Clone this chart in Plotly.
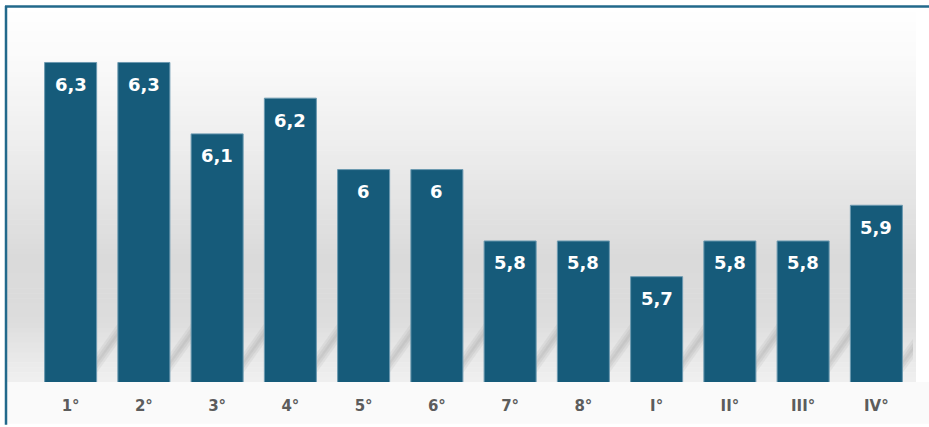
import plotly.graph_objects as go

categories = ["1°", "2°", "3°", "4°", "5°", "6°", "7°", "8°", "I°", "II°", "III°", "IV°"]
values = [6.3, 6.3, 6.1, 6.2, 6.0, 6.0, 5.8, 5.8, 5.7, 5.8, 5.8, 5.9]

W, H = 929, 427
ML, MR, MT, MB = 34, 16, 20, 42
Y0, Y1 = 5.405, 6.419
PW, PH = W - ML - MR, H - MT - MB


def px_x(p):
    return (p - ML) / PW


def px_y(p):
    return (H - MB - p) / PH


def lab(v):
    s = f"{v:g}"
    return s.replace(".", ",")


fig = go.Figure()
fig.add_trace(go.Bar(
    x=list(range(len(categories))), y=values, base=0,
    marker=dict(color="#165b7a", line=dict(color="#6b99b0", width=1)),
    hoverinfo="skip", showlegend=False,
))

shapes = []
# background gradient (decoration)
stops = [(6, (255, 255, 255)), (60, (250, 250, 250)), (150, (237, 237, 237)),
         (260, (218, 218, 218)), (320, (220, 220, 220)), (365, (234, 234, 234)),
         (385, (240, 240, 240))]
n = 76
top, bot = 7, 385
for i in range(n):
    a = top + (bot - top) * i / n
    b = top + (bot - top) * (i + 1) / n
    m = (a + b) / 2
    for j in range(len(stops) - 1):
        if stops[j][0] <= m <= stops[j + 1][0]:
            t = (m - stops[j][0]) / (stops[j + 1][0] - stops[j][0])
            c = tuple(round(stops[j][1][k] + t * (stops[j + 1][1][k] - stops[j][1][k])) for k in range(3))
            break
    shapes.append(dict(type="rect", xref="paper", yref="paper", layer="below",
                       x0=px_x(7), x1=px_x(916), y0=px_y(b + 0.6), y1=px_y(a),
                       fillcolor=f"rgb{c}", line=dict(width=0)))
# light area under the plot
shapes.append(dict(type="rect", xref="paper", yref="paper", layer="below",
                   x0=px_x(7), x1=px_x(929), y0=px_y(427), y1=px_y(385),
                   fillcolor="#fafafa", line=dict(width=0)))

# soft diagonal shadows between bars (decoration)
half = 0.355


def dy(p):
    return (385 - p) / 360 + Y0


for i in range(len(categories)):
    xl = i + half
    xr = i + 1 - half if i < len(categories) - 1 else i + half + 0.3
    for off, alpha in ((0, 0.10), (4, 0.12), (8, 0.10)):
        path = (f"M {xl},{dy(376 - off)} L {xr},{dy(346 - off)} L {xr},{dy(334 - off)} L {xl},{dy(364 - off)} Z")
        shapes.append(dict(type="path", xref="x", yref="y", layer="below", path=path,
                           fillcolor=f"rgba(130,130,130,{alpha})", line=dict(width=0)))

# border lines (left and top)
shapes.append(dict(type="line", xref="paper", yref="paper", x0=px_x(6), x1=px_x(6),
                   y0=px_y(6), y1=px_y(428), line=dict(color="#22698b", width=2.5)))
shapes.append(dict(type="line", xref="paper", yref="paper", x0=px_x(5), x1=px_x(930),
                   y0=px_y(6.5), y1=px_y(6.5), line=dict(color="#22698b", width=2.5)))

annotations = []
for i, v in enumerate(values):
    annotations.append(dict(x=i, y=v, xref="x", yref="y", text=lab(v), showarrow=False,
                            yanchor="middle", yshift=-22,
                            font=dict(family="DejaVu Sans", size=18, color="white", weight="bold")))

fig.update_layout(
    width=W, height=H, autosize=False,
    margin=dict(l=ML, r=MR, t=MT, b=MB, pad=0),
    paper_bgcolor="white", plot_bgcolor="rgba(0,0,0,0)",
    bargap=0.29,
    shapes=shapes, annotations=annotations,
    xaxis=dict(range=[-0.5, len(categories) - 0.5], tickmode="array",
               tickvals=list(range(len(categories))), ticktext=categories,
               showgrid=False, zeroline=False, showline=False, ticks="",
               ticklabelstandoff=13,
               tickfont=dict(family="DejaVu Sans", size=15, color="#5c5c5c", weight="bold")),
    yaxis=dict(range=[Y0, Y1], visible=False, showgrid=False, zeroline=False),
)

fig.write_html("out.html", config={"displayModeBar": False, "responsive": False},
               post_script="document.body.style.margin='0';")
